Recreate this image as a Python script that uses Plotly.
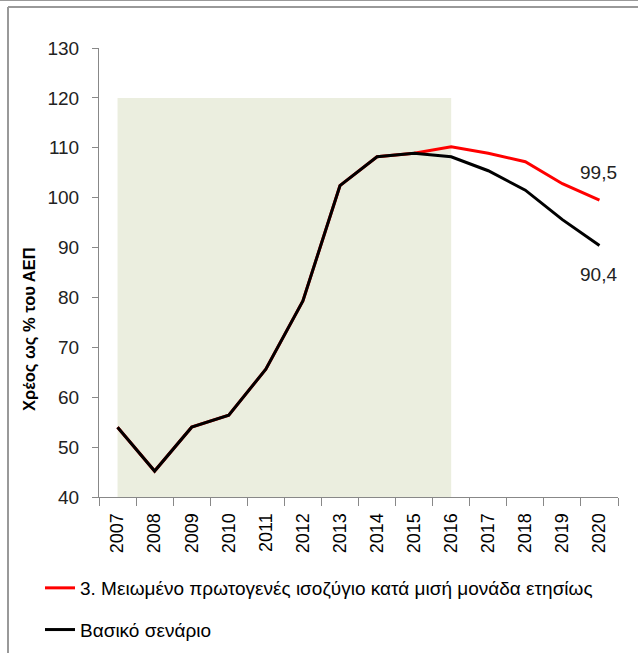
import plotly.graph_objects as go

years = list(range(2007, 2021))
year_labels = [str(y) for y in years]
baseline = [54.0, 45.2, 54.0, 56.4, 65.6, 79.3, 102.4, 108.2, 108.9, 108.2, 105.4, 101.5, 95.6, 90.4]
reduced = [54.0, 45.2, 54.0, 56.4, 65.6, 79.3, 102.4, 108.2, 108.9, 110.2, 108.9, 107.2, 102.8, 99.5]
name_reduced = "3. Μειωμένο πρωτογενές ισοζύγιο κατά μισή μονάδα ετησίως"
name_base = "Βασικό σενάριο"
shade_x = [2007, 2016]
shade_y = [40, 120]
y_title = "Χρέος ως % του ΑΕΠ"

FONT = "Liberation Sans, Arial, sans-serif"

W, H = 638, 653
L, R, T, B = 99, 20, 48, 156
pw, ph = W - L - R, H - T - B

def px(x):
    return (x - L) / pw

def py(y):
    return (H - B - y) / ph

fig = go.Figure()
fig.add_trace(go.Scatter(x=years, y=reduced, mode="lines", name=name_reduced,
                         line=dict(color="#FF0000", width=3), legendgroup="a"))
fig.add_trace(go.Scatter(x=years, y=baseline, mode="lines", name=name_base,
                         line=dict(color="#000000", width=3), legendgroup="b"))

fig.add_shape(type="rect", xref="x", yref="y", x0=shade_x[0], x1=shade_x[1],
              y0=shade_y[0], y1=shade_y[1], fillcolor="#EBEEDF", line=dict(width=0),
              layer="below")

# frame lines
fig.add_shape(type="line", xref="paper", yref="paper", x0=px(8), x1=px(W), y0=py(7), y1=py(7),
              line=dict(color="#999999", width=2))
fig.add_shape(type="line", xref="paper", yref="paper", x0=px(8), x1=px(8), y0=py(7), y1=py(H),
              line=dict(color="#999999", width=2))
fig.add_shape(type="line", xref="paper", yref="paper", x0=px(0), x1=px(W), y0=py(0.5), y1=py(0.5),
              line=dict(color="#999999", width=1))

fig.add_annotation(x=years[-1], y=reduced[-1], text=f"{reduced[-1]:.1f}".replace(".", ","),
                   showarrow=False, yshift=28, xshift=-1,
                   font=dict(size=19, color="#222222", family=FONT))
fig.add_annotation(x=years[-1], y=baseline[-1], text=f"{baseline[-1]:.1f}".replace(".", ","),
                   showarrow=False, yshift=-29, xshift=-1,
                   font=dict(size=19, color="#222222", family=FONT))
fig.add_annotation(xref="paper", yref="paper", x=px(29), y=py(329), xanchor="center",
                   yanchor="middle", text=f"<b>{y_title}</b>",
                   textangle=-90, showarrow=False,
                   font=dict(size=16.5, color="#000000", family=FONT))

fig.update_layout(
    width=W, height=H,
    margin=dict(l=L, r=R, t=T, b=B, autoexpand=False),
    paper_bgcolor="white", plot_bgcolor="white",
    font=dict(family=FONT, size=19, color="#222222"),
    showlegend=True,
    legend=dict(x=px(40), y=py(569), xanchor="left", yanchor="top",
                orientation="v", tracegroupgap=14, font=dict(size=19, color="#000000"),
                bgcolor="rgba(0,0,0,0)"),
    xaxis=dict(range=[2006.5, 2020.5], tickmode="array", tickvals=years, ticktext=year_labels,
               ticks="", showline=True, linecolor="#888888", linewidth=1,
               minor=dict(ticks="outside", tick0=2006.5, dtick=1, ticklen=8,
                          tickcolor="#888888", showgrid=False),
               showgrid=False, tickangle=-90, tickfont=dict(size=18, color="#000000"),
               ticklabelstandoff=8, zeroline=False),
    yaxis=dict(range=[40, 130], dtick=10, ticks="outside", ticklen=6, tickcolor="#888888",
               showline=True, linecolor="#888888", linewidth=1, showgrid=False,
               zeroline=False, ticklabelstandoff=9, tickfont=dict(size=19, color="#222222")),
)

fig.write_html("out.html", config={"displayModeBar": False},
               post_script="document.body.style.margin='0px';document.body.style.overflow='hidden';")
